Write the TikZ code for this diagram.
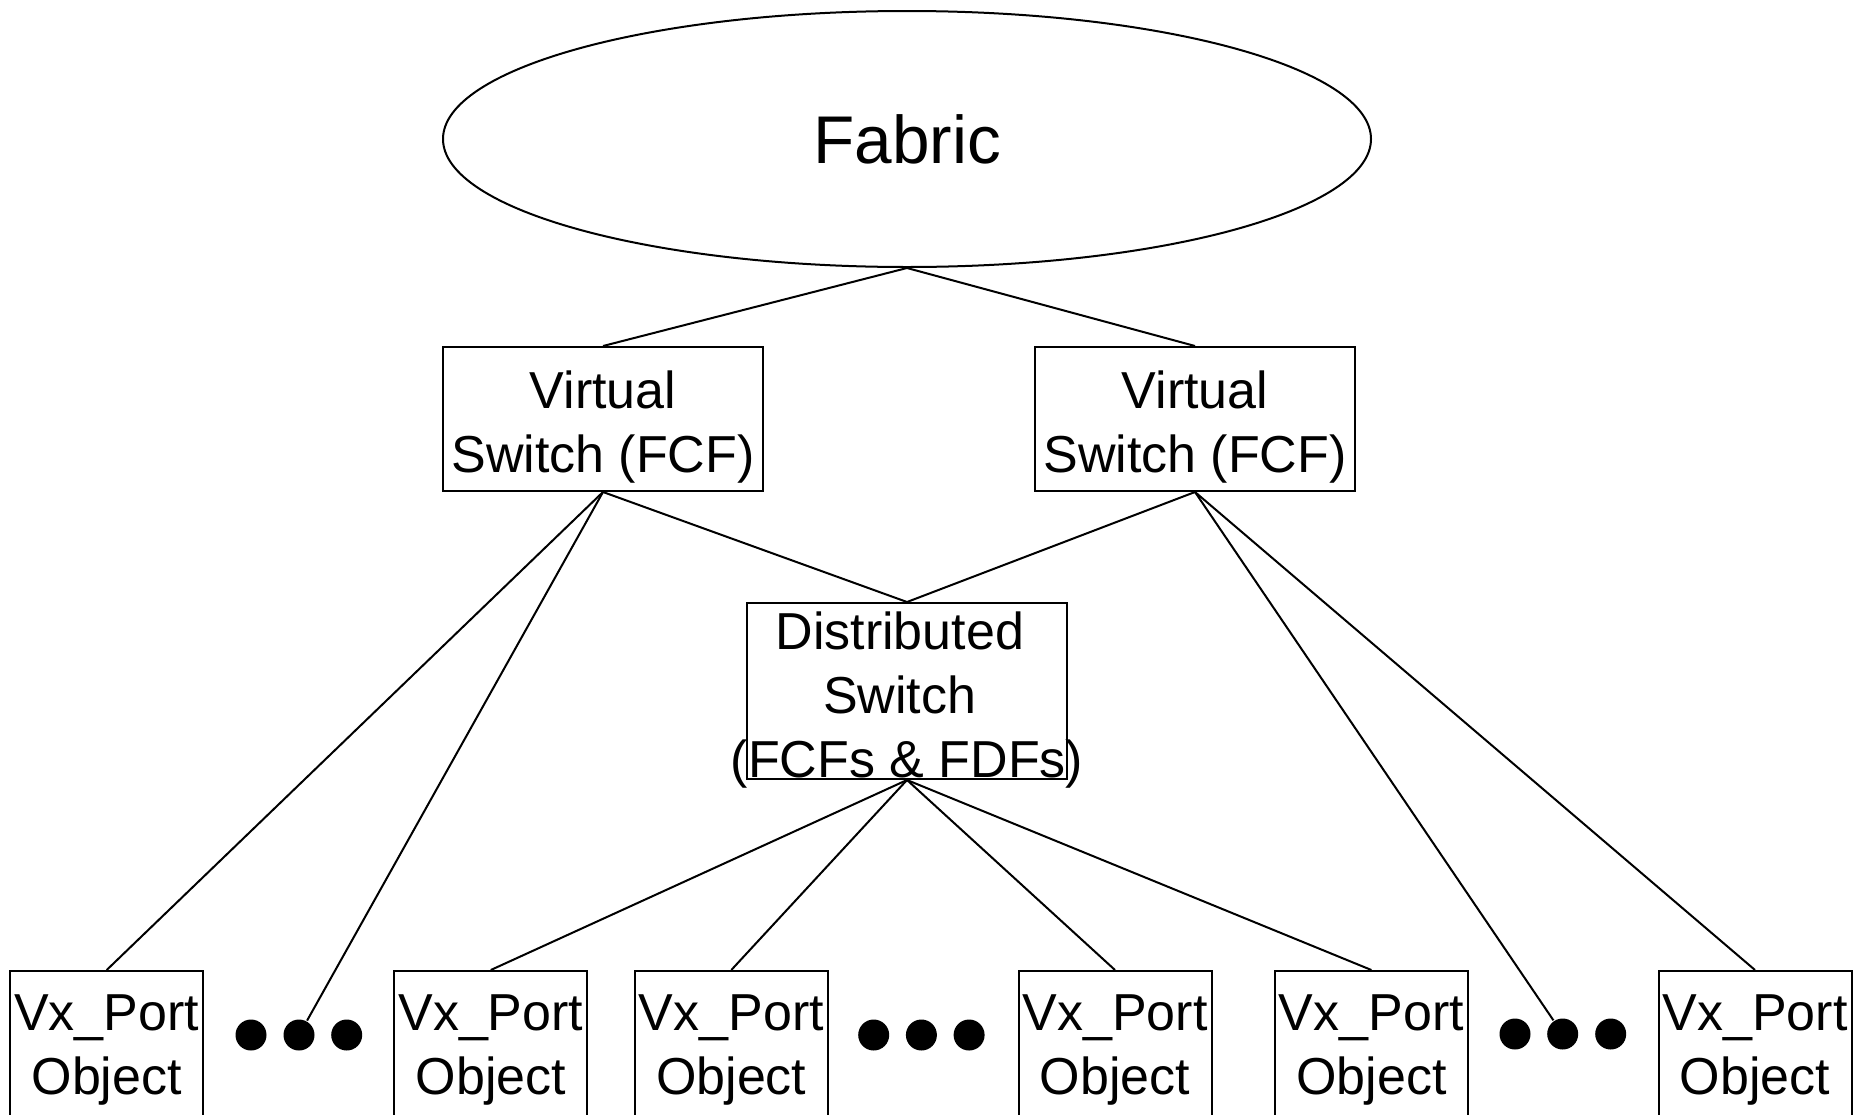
\documentclass[tikz,border=0pt]{standalone}
\usepackage{fontspec}
\setmainfont{Liberation Sans}
\usetikzlibrary{shapes.geometric}

\begin{document}
\begin{tikzpicture}[x=0.5pt, y=-0.5pt,
  line width=1pt,
  boxnode/.style={draw, rectangle, inner sep=0pt},
  portbox/.style={boxnode, minimum width=96.5pt, minimum height=100pt},
  lbl/.style={align=center, inner sep=0pt, anchor=north,
              font=\fontsize{26}{32}\selectfont},
  dot/.style={circle, fill=black, draw=none, inner sep=0pt, minimum size=15.5pt},
  link/.style={draw, line width=1pt}]

\useasboundingbox (0,0) rectangle (1869,1114);
\clip (0,0) rectangle (1869,1114);

% fabric cloud
\node[ellipse, draw, inner sep=0pt, minimum width=464pt, minimum height=128pt,
      font=\fontsize{33.75}{40}\selectfont] (fabric) at (907,139) {Fabric};

% virtual switches
\node[boxnode, minimum width=160pt, minimum height=72pt] (vsl) at (603,419) {};
\node[boxnode, minimum width=160pt, minimum height=72pt] (vsr) at (1195,419) {};
\node[lbl] (vsltext) at (603,369.5) {Virtual\\Switch (FCF)};
\node[lbl] (vsrtext) at (1195,369.5) {Virtual\\Switch (FCF)};

% distributed switch
\node[boxnode, minimum width=160pt, minimum height=88pt] (ds) at (907,691) {};
\node[lbl] (dstext) at (907,611)
  {\mbox{Distributed\kern.278em}\\\mbox{Switch\kern.278em}\\(FCFs \& FDFs)};

% port objects along the bottom edge
\foreach \n/\px in {1/106.7, 2/490.8, 3/731.3, 4/1115, 5/1371.4, 6/1755} {
  \node[portbox] (v\n) at (\px,1071) {};
  \node[lbl] (v\n text) at (\px,993.8) {Vx\_Port\\Object};
}

% ellipsis dots
\node[dot] (d1a) at (251,1035) {};
\node[dot] (d1b) at (299,1035) {};
\node[dot] (d1c) at (346.7,1035) {};
\node[dot] (d2a) at (873.7,1035) {};
\node[dot] (d2b) at (921.4,1035) {};
\node[dot] (d2c) at (969.1,1035) {};
\node[dot] (d3a) at (1515,1034) {};
\node[dot] (d3b) at (1562.7,1034) {};
\node[dot] (d3c) at (1610.7,1034) {};

% connectors
\path[link] (fabric.south) -- (vsl.north);
\path[link] (fabric.south) -- (vsr.north);
\path[link] (vsl.south) -- (ds.north);
\path[link] (vsr.south) -- (ds.north);
\path[link] (vsl.south) -- (v1.north);
\path[link] (vsl.south) -- (d1b);
\path[link] (vsr.south) -- (d3b);
\path[link] (vsr.south) -- (v6.north);
\foreach \k in {2,3,4,5}
  \path[link] (ds.south) -- (v\k.north);

\end{tikzpicture}
\end{document}
